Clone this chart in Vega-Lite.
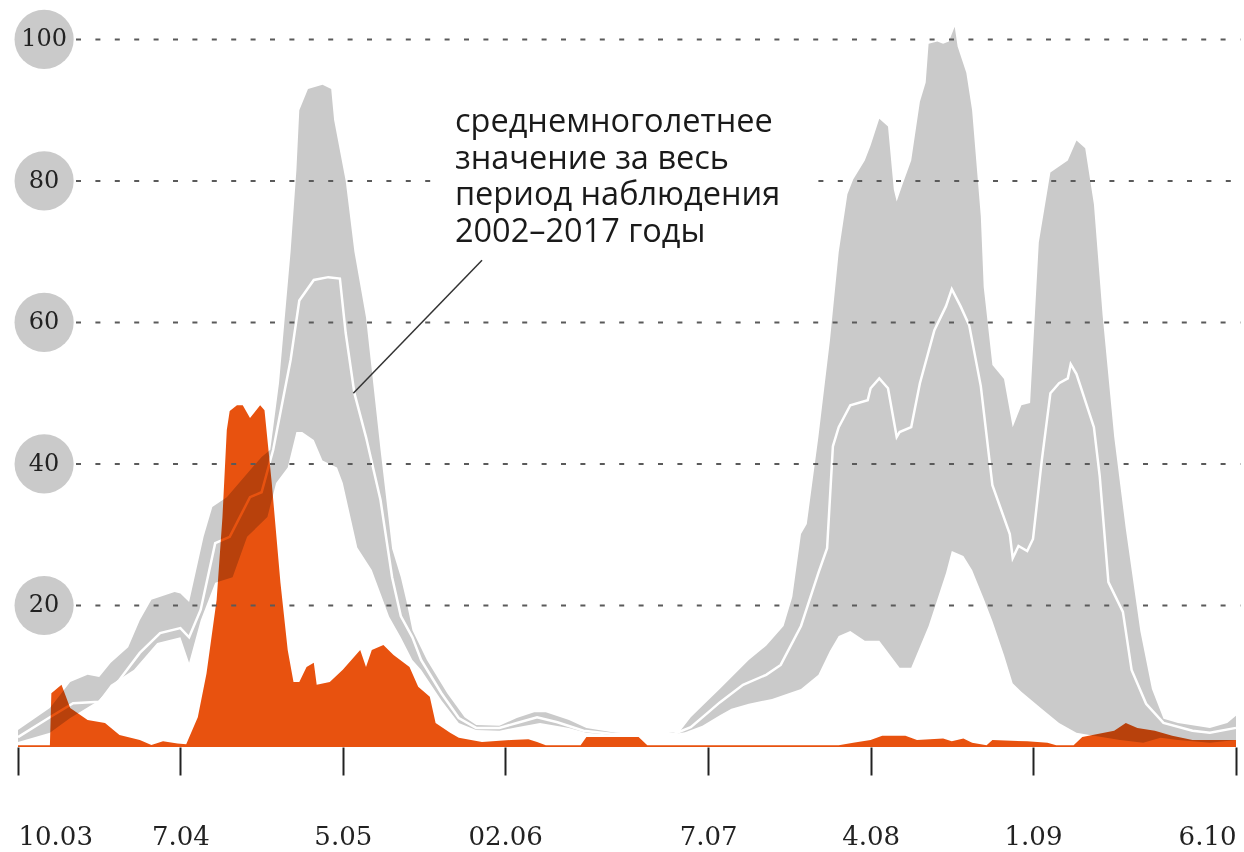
{
  "$schema": "https://vega.github.io/schema/vega-lite/v6.json",
  "width": 1218,
  "height": 743,
  "autosize": {"type": "none"},
  "padding": {"left": 18, "right": 8, "top": 4, "bottom": 105},
  "background": "white",
  "config": {
    "view": {"stroke": null},
    "axis": {"domain": false, "grid": false, "title": null}
  },
  "datasets": {
    "max": [
      {"d":"2017-03-10","v":2.4},{"d":"2017-03-15T12:00:00Z","v":5.5},{"d":"2017-03-19","v":9.2},{"d":"2017-03-22","v":10.2},{"d":"2017-03-24","v":9.9},{"d":"2017-03-26","v":11.9},{"d":"2017-03-29","v":14.1},{"d":"2017-03-31","v":17.9},{"d":"2017-04-02","v":20.8},{"d":"2017-04-06","v":21.9},{"d":"2017-04-07","v":21.7},{"d":"2017-04-08T12:00:00Z","v":20.5},{"d":"2017-04-11","v":29.7},{"d":"2017-04-12T12:00:00Z","v":33.9},{"d":"2017-04-15","v":35.3},{"d":"2017-04-21","v":41},{"d":"2017-04-22T12:00:00Z","v":42},{"d":"2017-04-24","v":51.4},{"d":"2017-04-26","v":70},{"d":"2017-04-27","v":81.5},{"d":"2017-04-27T12:00:00Z","v":90},{"d":"2017-04-29","v":93},{"d":"2017-05-01T12:00:00Z","v":93.6},{"d":"2017-05-03","v":93},{"d":"2017-05-03T12:00:00Z","v":88.6},{"d":"2017-05-05T12:00:00Z","v":80},{"d":"2017-05-07","v":70},{"d":"2017-05-09","v":60.7},{"d":"2017-05-11T12:00:00Z","v":42},{"d":"2017-05-13T12:00:00Z","v":28},{"d":"2017-05-15","v":24},{"d":"2017-05-16","v":20.5},{"d":"2017-05-17","v":16.5},{"d":"2017-05-19T12:00:00Z","v":12.3},{"d":"2017-05-23","v":7.6},{"d":"2017-05-26","v":4.2},{"d":"2017-05-28","v":3.1},{"d":"2017-06-01","v":3},{"d":"2017-06-04","v":4.1},{"d":"2017-06-07","v":4.9},{"d":"2017-06-09","v":4.9},{"d":"2017-06-13","v":3.8},{"d":"2017-06-16","v":2.7},{"d":"2017-06-21","v":2},{"d":"2017-06-27","v":1.8},{"d":"2017-07-02","v":2.1},{"d":"2017-07-04","v":4.2},{"d":"2017-07-07","v":6.6},{"d":"2017-07-09","v":8.2},{"d":"2017-07-14","v":12.3},{"d":"2017-07-17","v":14.3},{"d":"2017-07-20","v":17.1},{"d":"2017-07-21T12:00:00Z","v":21.2},{"d":"2017-07-23","v":30.1},{"d":"2017-07-24","v":31.5},{"d":"2017-07-26","v":43.8},{"d":"2017-07-28","v":57.5},{"d":"2017-07-29T12:00:00Z","v":69.9},{"d":"2017-07-31","v":78.1},{"d":"2017-08-01","v":80.2},{"d":"2017-08-03","v":82.9},{"d":"2017-08-04","v":85},{"d":"2017-08-05T12:00:00Z","v":88.8},{"d":"2017-08-07","v":87.7},{"d":"2017-08-08","v":78.8},{"d":"2017-08-08T12:00:00Z","v":77.1},{"d":"2017-08-09T12:00:00Z","v":79.5},{"d":"2017-08-11","v":82.9},{"d":"2017-08-12T12:00:00Z","v":91.2},{"d":"2017-08-13T12:00:00Z","v":93.9},{"d":"2017-08-14","v":99.4},{"d":"2017-08-15T12:00:00Z","v":99.7},{"d":"2017-08-16T12:00:00Z","v":99.4},{"d":"2017-08-17T12:00:00Z","v":99.7},{"d":"2017-08-18T12:00:00Z","v":101.8},{"d":"2017-08-19","v":99},{"d":"2017-08-20T12:00:00Z","v":95.3},{"d":"2017-08-21T12:00:00Z","v":90},{"d":"2017-08-23","v":75},{"d":"2017-08-23T12:00:00Z","v":65},{"d":"2017-08-25","v":54},{"d":"2017-08-27","v":52},{"d":"2017-08-28T12:00:00Z","v":45.2},{"d":"2017-08-30","v":48.3},{"d":"2017-08-31T12:00:00Z","v":48.6},{"d":"2017-09-02","v":71.3},{"d":"2017-09-04","v":81.2},{"d":"2017-09-07","v":82.9},{"d":"2017-09-08T12:00:00Z","v":85.7},{"d":"2017-09-10","v":84.6},{"d":"2017-09-11T12:00:00Z","v":76.7},{"d":"2017-09-13","v":61},{"d":"2017-09-15","v":43.8},{"d":"2017-09-17","v":30.8},{"d":"2017-09-19T12:00:00Z","v":16.4},{"d":"2017-09-21T12:00:00Z","v":8.2},{"d":"2017-09-23T12:00:00Z","v":4},{"d":"2017-09-26","v":3.4},{"d":"2017-10-01T12:00:00Z","v":2.7},{"d":"2017-10-04T12:00:00Z","v":3.4},{"d":"2017-10-06","v":4.4}
    ],
    "min": [
      {"d":"2017-03-10","v":0.7},{"d":"2017-03-15T12:00:00Z","v":2},{"d":"2017-03-19","v":4.1},{"d":"2017-03-24","v":6.6},{"d":"2017-03-26","v":8.8},{"d":"2017-03-30","v":10.9},{"d":"2017-04-03","v":14.7},{"d":"2017-04-07","v":15.5},{"d":"2017-04-08T12:00:00Z","v":11.9},{"d":"2017-04-10T12:00:00Z","v":17.9},{"d":"2017-04-13","v":23.2},{"d":"2017-04-16","v":24},{"d":"2017-04-18T12:00:00Z","v":29.7},{"d":"2017-04-22","v":32.5},{"d":"2017-04-23T12:00:00Z","v":37.3},{"d":"2017-04-25T12:00:00Z","v":39.5},{"d":"2017-04-27","v":44.5},{"d":"2017-04-28","v":44.5},{"d":"2017-04-30","v":43.4},{"d":"2017-05-01T12:00:00Z","v":40.5},{"d":"2017-05-04","v":39.5},{"d":"2017-05-05","v":37.3},{"d":"2017-05-07T12:00:00Z","v":28.2},{"d":"2017-05-10","v":25},{"d":"2017-05-13","v":18.4},{"d":"2017-05-15","v":15.5},{"d":"2017-05-17","v":12.3},{"d":"2017-05-18T12:00:00Z","v":10.9},{"d":"2017-05-22","v":6.6},{"d":"2017-05-25","v":3.4},{"d":"2017-05-28","v":2.4},{"d":"2017-06-01","v":2.3},{"d":"2017-06-04","v":2.8},{"d":"2017-06-08","v":3.4},{"d":"2017-06-13","v":2.7},{"d":"2017-06-16","v":2},{"d":"2017-06-21","v":1.7},{"d":"2017-06-30","v":1.7},{"d":"2017-07-03","v":2.1},{"d":"2017-07-06","v":3},{"d":"2017-07-09","v":4.5},{"d":"2017-07-11","v":5.4},{"d":"2017-07-14","v":6.1},{"d":"2017-07-18","v":6.8},{"d":"2017-07-23","v":8.2},{"d":"2017-07-26","v":10.2},{"d":"2017-07-28","v":13.6},{"d":"2017-07-29T12:00:00Z","v":15.7},{"d":"2017-07-31T12:00:00Z","v":16.4},{"d":"2017-08-03","v":15},{"d":"2017-08-05T12:00:00Z","v":15},{"d":"2017-08-08","v":12.3},{"d":"2017-08-09","v":11.2},{"d":"2017-08-11","v":11.2},{"d":"2017-08-14","v":17.1},{"d":"2017-08-17","v":24.6},{"d":"2017-08-18","v":27.7},{"d":"2017-08-20","v":27},{"d":"2017-08-21T12:00:00Z","v":25},{"d":"2017-08-23T12:00:00Z","v":21},{"d":"2017-08-25","v":17.8},{"d":"2017-08-27","v":13},{"d":"2017-08-28T12:00:00Z","v":9},{"d":"2017-08-30","v":7.8},{"d":"2017-09-02T12:00:00Z","v":5.4},{"d":"2017-09-05T12:00:00Z","v":3.4},{"d":"2017-09-08T12:00:00Z","v":2},{"d":"2017-09-11T12:00:00Z","v":1.6},{"d":"2017-09-16","v":1},{"d":"2017-09-20","v":0.6},{"d":"2017-09-23","v":1.3},{"d":"2017-09-26","v":1},{"d":"2017-10-01T12:00:00Z","v":0.6},{"d":"2017-10-06","v":1}
    ],
    "mean": [
      {"d":"2017-03-10","v":1.4},{"d":"2017-03-15T12:00:00Z","v":4.2},{"d":"2017-03-19T12:00:00Z","v":6.2},{"d":"2017-03-24","v":6.4},{"d":"2017-03-27T12:00:00Z","v":9.5},{"d":"2017-03-31","v":13.3},{"d":"2017-04-03T12:00:00Z","v":16.1},{"d":"2017-04-07","v":16.8},{"d":"2017-04-08T12:00:00Z","v":15.5},{"d":"2017-04-10T12:00:00Z","v":19.4},{"d":"2017-04-13","v":28.8},{"d":"2017-04-15T12:00:00Z","v":29.7},{"d":"2017-04-19","v":35.3},{"d":"2017-04-21","v":36},{"d":"2017-04-23","v":42},{"d":"2017-04-26","v":54.7},{"d":"2017-04-27T12:00:00Z","v":63.1},{"d":"2017-04-30","v":66},{"d":"2017-05-02T12:00:00Z","v":66.4},{"d":"2017-05-04T12:00:00Z","v":66.2},{"d":"2017-05-05T12:00:00Z","v":58.5},{"d":"2017-05-07","v":50},{"d":"2017-05-09","v":43.8},{"d":"2017-05-11T12:00:00Z","v":34.9},{"d":"2017-05-13T12:00:00Z","v":24},{"d":"2017-05-15","v":18.5},{"d":"2017-05-17","v":15.5},{"d":"2017-05-18T12:00:00Z","v":12.3},{"d":"2017-05-22","v":7.6},{"d":"2017-05-25","v":4.1},{"d":"2017-05-28","v":2.7},{"d":"2017-06-01","v":2.7},{"d":"2017-06-04","v":3.4},{"d":"2017-06-07T12:00:00Z","v":4.2},{"d":"2017-06-11","v":3.5},{"d":"2017-06-15T12:00:00Z","v":2.3},{"d":"2017-06-21","v":1.8},{"d":"2017-07-01","v":1.8},{"d":"2017-07-04","v":2.8},{"d":"2017-07-07","v":4.9},{"d":"2017-07-09","v":6.3},{"d":"2017-07-13","v":8.8},{"d":"2017-07-17","v":10.2},{"d":"2017-07-19T12:00:00Z","v":11.6},{"d":"2017-07-23","v":17.1},{"d":"2017-07-26","v":24.6},{"d":"2017-07-27T12:00:00Z","v":28.1},{"d":"2017-07-28T12:00:00Z","v":42.5},{"d":"2017-07-29T12:00:00Z","v":45.2},{"d":"2017-07-31T12:00:00Z","v":48.3},{"d":"2017-08-03T12:00:00Z","v":49},{"d":"2017-08-04","v":50.7},{"d":"2017-08-05T12:00:00Z","v":52.1},{"d":"2017-08-07","v":50.7},{"d":"2017-08-08T12:00:00Z","v":43.8},{"d":"2017-08-09","v":44.5},{"d":"2017-08-11","v":45.2},{"d":"2017-08-12T12:00:00Z","v":51.4},{"d":"2017-08-15","v":58.9},{"d":"2017-08-17","v":62.3},{"d":"2017-08-18","v":64.7},{"d":"2017-08-19T12:00:00Z","v":62.3},{"d":"2017-08-21","v":59.6},{"d":"2017-08-23","v":51},{"d":"2017-08-25","v":37},{"d":"2017-08-28","v":30.1},{"d":"2017-08-28T12:00:00Z","v":26.7},{"d":"2017-08-29T12:00:00Z","v":28.4},{"d":"2017-08-31","v":27.7},{"d":"2017-09-01","v":29.4},{"d":"2017-09-02T12:00:00Z","v":40.4},{"d":"2017-09-04","v":50},{"d":"2017-09-05T12:00:00Z","v":51.4},{"d":"2017-09-07","v":52.1},{"d":"2017-09-07T12:00:00Z","v":54.1},{"d":"2017-09-08T12:00:00Z","v":52.7},{"d":"2017-09-11T12:00:00Z","v":45.2},{"d":"2017-09-12T12:00:00Z","v":38.3},{"d":"2017-09-14","v":23.3},{"d":"2017-09-16T12:00:00Z","v":19.1},{"d":"2017-09-18","v":10.9},{"d":"2017-09-20T12:00:00Z","v":6.1},{"d":"2017-09-23T12:00:00Z","v":3.4},{"d":"2017-09-28T12:00:00Z","v":2.3},{"d":"2017-10-01T12:00:00Z","v":2},{"d":"2017-10-06","v":2.7}
    ],
    "cur": [
      {"d":"2017-03-10","v":0.25},{"d":"2017-03-15T12:00:00Z","v":0.25},{"d":"2017-03-15T18:00:00Z","v":7.6},{"d":"2017-03-17T12:00:00Z","v":8.8},{"d":"2017-03-19","v":5.5},{"d":"2017-03-22","v":3.8},{"d":"2017-03-25","v":3.4},{"d":"2017-03-27T12:00:00Z","v":1.7},{"d":"2017-03-31","v":1},{"d":"2017-04-02","v":0.3},{"d":"2017-04-04","v":0.8},{"d":"2017-04-06T12:00:00Z","v":0.5},{"d":"2017-04-08","v":0.4},{"d":"2017-04-10","v":4.2},{"d":"2017-04-11T12:00:00Z","v":10.4},{"d":"2017-04-13T06:00:00Z","v":20.8},{"d":"2017-04-14T06:00:00Z","v":32.5},{"d":"2017-04-15","v":44.8},{"d":"2017-04-15T12:00:00Z","v":47.5},{"d":"2017-04-16T18:00:00Z","v":48.3},{"d":"2017-04-17T18:00:00Z","v":48.3},{"d":"2017-04-19","v":46.5},{"d":"2017-04-20T18:00:00Z","v":48.3},{"d":"2017-04-21T12:00:00Z","v":47.6},{"d":"2017-04-22T18:00:00Z","v":37.3},{"d":"2017-04-24T06:00:00Z","v":23.2},{"d":"2017-04-25T12:00:00Z","v":13.7},{"d":"2017-04-26T12:00:00Z","v":9.2},{"d":"2017-04-27T12:00:00Z","v":9.2},{"d":"2017-04-28T18:00:00Z","v":11.3},{"d":"2017-04-30","v":11.9},{"d":"2017-04-30T12:00:00Z","v":8.8},{"d":"2017-05-02T18:00:00Z","v":9.2},{"d":"2017-05-05","v":10.9},{"d":"2017-05-08","v":13.7},{"d":"2017-05-09","v":11.3},{"d":"2017-05-10","v":13.7},{"d":"2017-05-12","v":14.4},{"d":"2017-05-13T18:00:00Z","v":13},{"d":"2017-05-16T12:00:00Z","v":11.3},{"d":"2017-05-18","v":8.5},{"d":"2017-05-20","v":7.1},{"d":"2017-05-21","v":3.4},{"d":"2017-05-23T12:00:00Z","v":2},{"d":"2017-05-25","v":1.3},{"d":"2017-05-29","v":0.7},{"d":"2017-06-03","v":1},{"d":"2017-06-06","v":1.1},{"d":"2017-06-07T12:00:00Z","v":0.7},{"d":"2017-06-09","v":0.25},{"d":"2017-06-15","v":0.25},{"d":"2017-06-16","v":1.4},{"d":"2017-06-25","v":1.4},{"d":"2017-06-26T12:00:00Z","v":0.25},{"d":"2017-07-29T12:00:00Z","v":0.25},{"d":"2017-08-01","v":0.6},{"d":"2017-08-04","v":1},{"d":"2017-08-06","v":1.6},{"d":"2017-08-10","v":1.6},{"d":"2017-08-12","v":1},{"d":"2017-08-16T12:00:00Z","v":1.2},{"d":"2017-08-18","v":0.8},{"d":"2017-08-20","v":1.2},{"d":"2017-08-21T12:00:00Z","v":0.6},{"d":"2017-08-24","v":0.25},{"d":"2017-08-25","v":1},{"d":"2017-08-31","v":0.8},{"d":"2017-09-03T12:00:00Z","v":0.6},{"d":"2017-09-05","v":0.25},{"d":"2017-09-08","v":0.25},{"d":"2017-09-09T12:00:00Z","v":1.4},{"d":"2017-09-15","v":2.3},{"d":"2017-09-17","v":3.4},{"d":"2017-09-19","v":2.7},{"d":"2017-09-22","v":2.3},{"d":"2017-09-25","v":1.6},{"d":"2017-09-28T12:00:00Z","v":1},{"d":"2017-10-06","v":1}
    ],
    "grid": [
      {"v":20,"from":"2017-03-20","to":"2017-10-06T18:00:00Z"},
      {"v":40,"from":"2017-03-20","to":"2017-10-06T18:00:00Z"},
      {"v":60,"from":"2017-03-20","to":"2017-10-06T18:00:00Z"},
      {"v":80,"from":"2017-03-20","to":"2017-05-21"},
      {"v":80,"from":"2017-07-26","to":"2017-10-06T18:00:00Z"},
      {"v":100,"from":"2017-03-20","to":"2017-10-06T18:00:00Z"}
    ],
    "yticks": [
      {"v":20,"d":"2017-03-14T12:00:00Z","label":"20"},
      {"v":40,"d":"2017-03-14T12:00:00Z","label":"40"},
      {"v":60,"d":"2017-03-14T12:00:00Z","label":"60"},
      {"v":80,"d":"2017-03-14T12:00:00Z","label":"80"},
      {"v":100,"d":"2017-03-14T12:00:00Z","label":"100"}
    ],
    "note": [
      {"d":"2017-05-24T08:00:00Z","v":86.9,"d2":"2017-05-06T19:30:00Z","v2":50,"vl":68.8,"dl":"2017-05-29","text":"среднемноголетнее\nзначение за весь\nпериод наблюдения\n2002–2017 годы"}
    ]
  },
  "layer": [
    {
      "data": {"name": "max"},
      "mark": {"type": "area", "color": "#cacaca"},
      "encoding": {
        "x": {"field": "d", "type": "temporal",
              "scale": {"type": "utc", "domain": [{"year":2017,"month":3,"date":10,"utc":true},{"year":2017,"month":10,"date":6,"utc":true}]},
              "axis": {
                "values": [
                  {"year":2017,"month":3,"date":10,"utc":true},
                  {"year":2017,"month":4,"date":7,"utc":true},
                  {"year":2017,"month":5,"date":5,"utc":true},
                  {"year":2017,"month":6,"date":2,"utc":true},
                  {"year":2017,"month":7,"date":7,"utc":true},
                  {"year":2017,"month":8,"date":4,"utc":true},
                  {"year":2017,"month":9,"date":1,"utc":true},
                  {"year":2017,"month":10,"date":6,"utc":true}
                ],
                "labelExpr": "(utcmonth(datum.value)==5 ? '0' : '') + utcdate(datum.value) + '.' + (utcmonth(datum.value) < 9 ? '0' : '') + (utcmonth(datum.value)+1)",
                "tickColor": "#222222", "tickWidth": 2, "tickSize": 28,
                "labelFont": "DejaVu Serif", "labelFontSize": 26, "labelColor": "#222222",
                "labelPadding": 48, "labelFlush": true, "domain": false, "grid": false
              }},
        "y": {"field": "v", "type": "quantitative", "scale": {"domain": [0, 105], "nice": false}, "axis": null}
      }
    },
    {
      "data": {"name": "min"},
      "mark": {"type": "area", "color": "#ffffff"},
      "encoding": {
        "x": {"field": "d", "type": "temporal"},
        "y": {"field": "v", "type": "quantitative"}
      }
    },
    {
      "data": {"name": "mean"},
      "mark": {"type": "line", "color": "#ffffff", "strokeWidth": 2.5},
      "encoding": {
        "x": {"field": "d", "type": "temporal"},
        "y": {"field": "v", "type": "quantitative"}
      }
    },
    {
      "data": {"name": "cur"},
      "mark": {"type": "area", "color": "#e8520f", "blend": "multiply"},
      "encoding": {
        "x": {"field": "d", "type": "temporal"},
        "y": {"field": "v", "type": "quantitative"}
      }
    },
    {
      "data": {"name": "grid"},
      "mark": {"type": "rule", "color": "#5a5a5a", "strokeWidth": 2, "strokeDash": [5, 14.4]},
      "encoding": {
        "x": {"field": "from", "type": "temporal"},
        "x2": {"field": "to"},
        "y": {"field": "v", "type": "quantitative"}
      }
    },
    {
      "data": {"name": "note"},
      "mark": {"type": "rule", "color": "#333333", "strokeWidth": 1.5},
      "encoding": {
        "x": {"field": "dl", "type": "temporal"},
        "y": {"field": "vl", "type": "quantitative"},
        "x2": {"field": "d2"},
        "y2": {"field": "v2"}
      }
    },
    {
      "data": {"name": "note"},
      "mark": {"type": "text", "align": "left", "baseline": "alphabetic", "font": "Open Sans", "fontSize": 32.5, "lineHeight": 36.5, "lineBreak": "\n", "color": "#1a1a1a"},
      "encoding": {
        "x": {"field": "d", "type": "temporal"},
        "y": {"field": "v", "type": "quantitative"},
        "text": {"field": "text"}
      }
    },
    {
      "data": {"name": "yticks"},
      "mark": {"type": "point", "shape": "circle", "filled": true, "size": 3500, "color": "#cacaca", "opacity": 1},
      "encoding": {
        "x": {"field": "d", "type": "temporal"},
        "y": {"field": "v", "type": "quantitative"}
      }
    },
    {
      "data": {"name": "yticks"},
      "mark": {"type": "text", "align": "center", "baseline": "middle", "font": "DejaVu Serif", "fontSize": 24, "color": "#222222"},
      "encoding": {
        "x": {"field": "d", "type": "temporal"},
        "y": {"field": "v", "type": "quantitative"},
        "text": {"field": "label"}
      }
    }
  ]
}
